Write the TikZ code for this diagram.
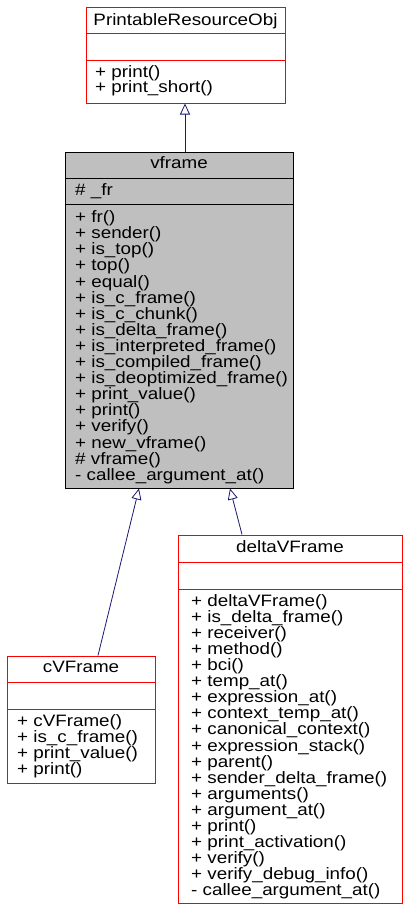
\documentclass[tikz,border=0pt]{standalone}
\usepackage{fontspec}
\setmainfont[FakeStretch=1.14]{Liberation Sans}
\usetikzlibrary{arrows.meta,calc}
\definecolor{edgeblue}{HTML}{191970}
\definecolor{boxgray}{HTML}{BFBFBF}
\begin{document}
\begin{tikzpicture}[x=1pt,y=-1pt,
  redbox/.style={draw=red,line width=1pt,fill=white,inner sep=0pt},
  graybox/.style={draw=black,line width=1pt,fill=boxgray,inner sep=0pt},
  txt/.style={inner sep=0pt,font=\fontsize{16.5}{16}\selectfont},
  mem/.style={txt,anchor=base west},
  ttl/.style={txt,anchor=base},
  edge/.style={draw=edgeblue,line width=0.8pt,-{Triangle[open,length=11pt,width=10pt,fill=white]}}]
\useasboundingbox (0,0) rectangle (410,911);
% boxes
\node[redbox,minimum width=199pt,minimum height=96pt] (pro) at (185.5,55) {};
\node[graybox,minimum width=228pt,minimum height=336pt] (vf) at (179,320) {};
\node[redbox,minimum width=148pt,minimum height=127pt] (cv) at (81,719.5) {};
\node[redbox,minimum width=224pt,minimum height=368pt] (dv) at (290,719) {};
% dividers
\draw[red,line width=1pt] (pro.west |- 0,33) -- (pro.east |- 0,33);
\draw[red,line width=1pt] (pro.west |- 0,60) -- (pro.east |- 0,60);
\draw[black,line width=1pt] (vf.west |- 0,178) -- (vf.east |- 0,178);
\draw[black,line width=1pt] (vf.west |- 0,204) -- (vf.east |- 0,204);
\draw[red,line width=1pt] (cv.west |- 0,682) -- (cv.east |- 0,682);
\draw[red,line width=1pt] (cv.west |- 0,709) -- (cv.east |- 0,709);
\draw[red,line width=1pt] (dv.west |- 0,562) -- (dv.east |- 0,562);
\draw[red,line width=1pt] (dv.west |- 0,589) -- (dv.east |- 0,589);
% titles
\node[ttl] (proT) at (185.5,25.5) {PrintableResourceObj};
\node[ttl] (vfT) at (179,168.5) {vframe};
\node[ttl] (cvT) at (81,672.5) {cVFrame};
\node[ttl] (dvT) at (290,552.5) {deltaVFrame};
% attributes
\node[mem] (vfA) at (75,195.5) {\# \_fr};
% members
\foreach \t [count=\i] in {+ print(),+ print\_short()}
  \node[mem] (proM\i) at (95,61.5+15.5*\i) {\t};
\foreach \t [count=\i] in {+ fr(),+ sender(),+ is\_top(),+ top(),+ equal(),+ is\_c\_frame(),+ is\_c\_chunk(),+ is\_delta\_frame(),+ is\_interpreted\_frame(),+ is\_compiled\_frame(),+ is\_deoptimized\_frame(),+ print\_value(),+ print(),+ verify(),+ new\_vframe(),\# vframe(),- callee\_argument\_at()}
  \node[mem] (vfM\i) at (75,206.5+16.1*\i) {\t};
\foreach \t [count=\i] in {+ cVFrame(),+ is\_c\_frame(),+ print\_value(),+ print()}
  \node[mem] (cvM\i) at (17,710.5+16*\i) {\t};
\foreach \t [count=\i] in {+ deltaVFrame(),+ is\_delta\_frame(),+ receiver(),+ method(),+ bci(),+ temp\_at(),+ expression\_at(),+ context\_temp\_at(),+ canonical\_context(),+ expression\_stack(),+ parent(),+ sender\_delta\_frame(),+ arguments(),+ argument\_at(),+ print(),+ print\_activation(),+ verify(),+ verify\_debug\_info(),- callee\_argument\_at()}
  \node[mem] (dvM\i) at (191,590.5+16.05*\i) {\t};
% connectors
\draw[edge] ($(vf.north)+(6,0)$) -- ($(pro.south)+(-0.5,0)$);
\draw[edge] ($(cv.north)+(17,0)$) -- ($(vf.south)+(-40,0)$);
\draw[edge] ($(dv.north)+(-48,0)$) -- ($(vf.south)+(51,0)$);
\end{tikzpicture}
\end{document}
